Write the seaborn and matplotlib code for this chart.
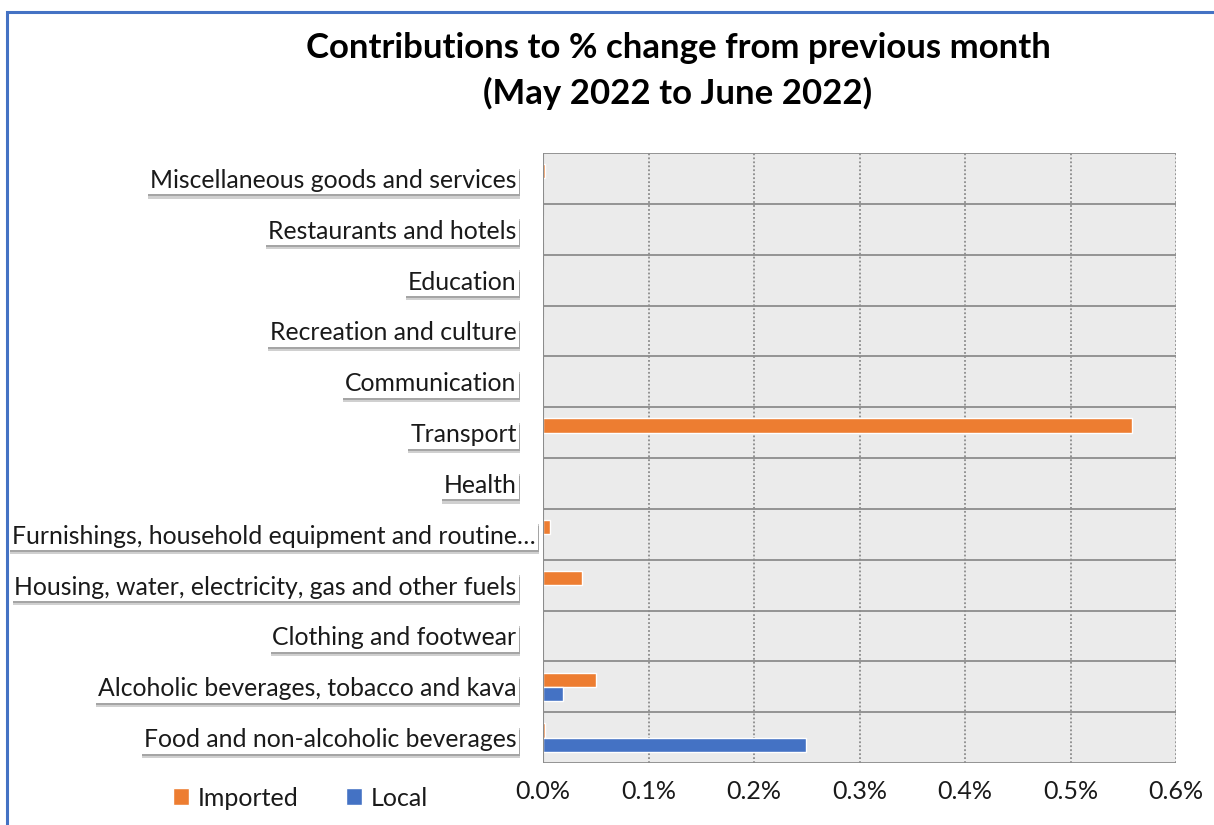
import matplotlib
matplotlib.use("Agg")
import matplotlib.pyplot as plt
import matplotlib.patheffects as pe
from matplotlib.patches import Rectangle
from matplotlib.ticker import FuncFormatter
import seaborn as sns
import pandas as pd

categories = [
    "Miscellaneous goods and services",
    "Restaurants and hotels",
    "Education",
    "Recreation and culture",
    "Communication",
    "Transport",
    "Health",
    "Furnishings, household equipment and routine…",
    "Housing, water, electricity, gas and other fuels",
    "Clothing and footwear",
    "Alcoholic beverages, tobacco and kava",
    "Food and non-alcoholic beverages",
]
imported = [0.002, 0.0, 0.0, 0.0, 0.0, 0.558, 0.0, 0.007, 0.037, 0.0, 0.050, 0.0015]
local = [0.0, 0.0, 0.0, 0.0, 0.0, 0.0, 0.0, 0.0, 0.0, 0.0, 0.019, 0.249]
series = ["Imported", "Local"]
colors = ["#ED7D31", "#4472C4"]
x_ticks = [0.0, 0.1, 0.2, 0.3, 0.4, 0.5, 0.6]

df = pd.DataFrame({
    "category": categories * 2,
    "value": imported + local,
    "series": [series[0]] * len(categories) + [series[1]] * len(categories),
})

sns.set_theme(style="white")
plt.rcParams["font.family"] = ["Lato", "DejaVu Sans"]

fig = plt.figure(figsize=(12.14, 8.25), dpi=100)
ax_w = (1176 - 543) / 1214
ax = fig.add_axes([543 / 1214, 1 - 763 / 825, ax_w, (763 - 153) / 825])

sns.barplot(data=df, y="category", x="value", hue="series", order=categories,
            hue_order=series, palette=colors, orient="h", width=0.56,
            saturation=1, ax=ax, legend=True)

ax.set_facecolor("#EBEBEB")
ax.set_xlim(0, 0.6)
ax.set_ylim(len(categories) - 0.5, -0.5)
ax.set_xticks(x_ticks)
ax.xaxis.set_major_formatter(FuncFormatter(lambda v, p: f"{v:.1f}%"))
ax.set_xlabel("")
ax.set_ylabel("")

# gridlines
for xv in x_ticks[1:]:
    ax.axvline(xv, color="#8C8C8C", lw=1.3, ls=(0, (1, 1.2)), zorder=0.5)
ax.set_yticks([i + 0.5 for i in range(-1, len(categories))], minor=True)
ax.grid(False)
ax.grid(which="minor", axis="y", color="#8C8C8C", lw=1.3, zorder=0.5)
ax.set_axisbelow(True)
ax.tick_params(which="minor", length=0)
ax.axvline(0, color="#8C8C8C", lw=1.5, zorder=3)

for s in ax.spines.values():
    s.set_visible(False)

ax.tick_params(axis="x", length=0, pad=12, labelsize=18, labelcolor="#1a1a1a")
ax.tick_params(axis="y", length=0, pad=19, labelsize=17.8, labelcolor="#1a1a1a")
for t in ax.get_yticklabels():
    t.set_bbox(dict(facecolor="white", edgecolor="none", boxstyle="square,pad=0.1"))
    t.get_bbox_patch().set_path_effects([
        pe.SimplePatchShadow(offset=(0.5, -3), shadow_rgbFace="#666666", alpha=0.3),
        pe.SimplePatchShadow(offset=(0.5, -1.5), shadow_rgbFace="#444444", alpha=0.3),
        pe.Normal()])
    if t.get_text().startswith("Furnishings"):
        t.set_x(19 / 1214 / ax_w)

# legend
leg = ax.legend(loc="center left", bbox_to_anchor=(150 / 1214, 1 - 798 / 825),
                bbox_transform=fig.transFigure, ncol=2, frameon=False,
                handlelength=0.65, handleheight=0.65, handletextpad=0.35,
                columnspacing=1.9, fontsize=18)
for t in leg.get_texts():
    t.set_color("#1a1a1a")

fig.text(678 / 1214, 1 - 71 / 825,
         "Contributions to % change from previous month\n(May 2022 to June 2022)",
         ha="center", va="center", fontsize=25, fontweight="bold",
         linespacing=1.45, color="black")

# blue frame around chart
fig.patches.append(Rectangle((7 / 1214, -0.05), 1.2, 1 - 12 / 825 + 0.05,
                             transform=fig.transFigure, fill=False,
                             edgecolor="#4472C4", lw=2.2))

fig.savefig("out.png", dpi=100)
